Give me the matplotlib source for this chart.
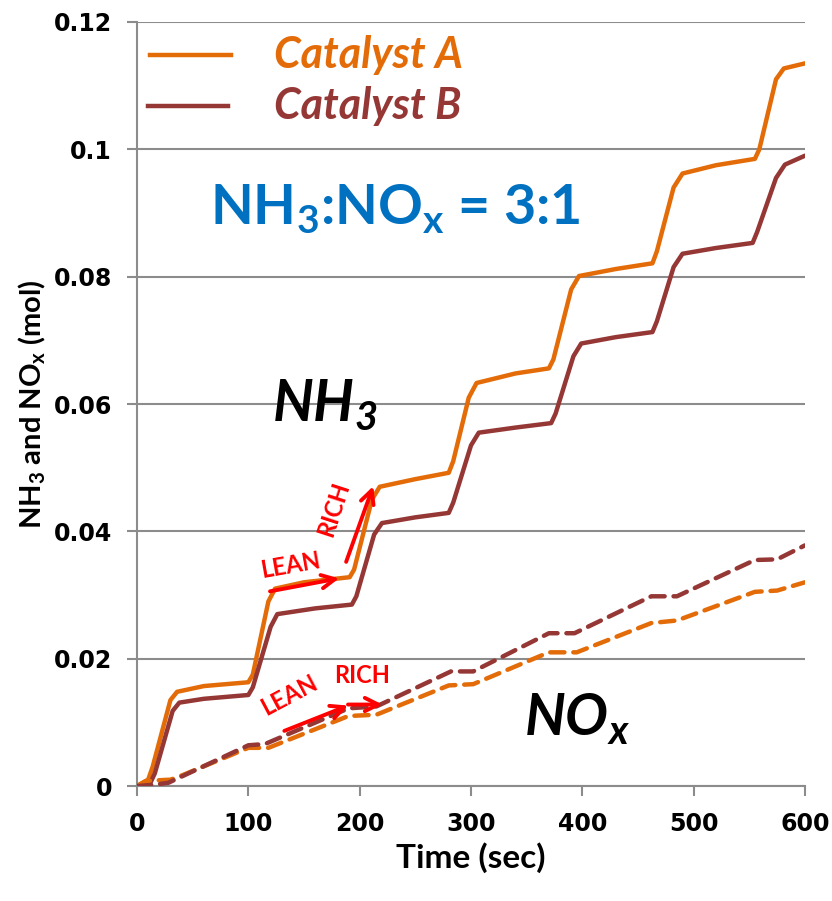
import matplotlib
matplotlib.use("Agg")
import matplotlib.pyplot as plt

# time (sec) / amount (mol)
t_nh3_a = [0, 10, 14, 30, 36, 60, 100, 104, 118, 124, 150, 191, 195, 211, 218, 250, 280, 284, 298, 305, 340, 370, 374, 390, 397, 430, 463, 467, 482, 490, 520, 555, 559, 574, 581, 600]
nh3_a = [0, 0.001, 0.003, 0.0135, 0.0148, 0.0157, 0.0163, 0.0175, 0.029, 0.031, 0.032, 0.0328, 0.034, 0.045, 0.047, 0.0482, 0.0492, 0.051, 0.061, 0.0633, 0.0648, 0.0656, 0.067, 0.078, 0.0801, 0.0812, 0.0821, 0.084, 0.094, 0.0962, 0.0975, 0.0985, 0.1, 0.111, 0.1127, 0.1135]

t_nh3_b = [0, 12, 16, 32, 38, 60, 100, 104, 120, 126, 160, 193, 197, 213, 220, 250, 280, 284, 300, 307, 340, 372, 376, 392, 399, 430, 463, 467, 482, 490, 520, 553, 557, 574, 582, 600]
nh3_b = [0, 0.0005, 0.002, 0.0118, 0.0131, 0.0137, 0.0143, 0.0155, 0.025, 0.027, 0.0279, 0.0285, 0.0298, 0.0395, 0.0413, 0.0422, 0.0429, 0.0445, 0.0535, 0.0555, 0.0563, 0.057, 0.0585, 0.0675, 0.0695, 0.0705, 0.0713, 0.073, 0.0815, 0.0836, 0.0845, 0.0853, 0.087, 0.0955, 0.0976, 0.099]

t_nox_a = [0, 8, 30, 38, 100, 118, 190, 215, 280, 302, 370, 395, 462, 485, 555, 575, 600]
nox_a = [0, 0.0008, 0.001, 0.0015, 0.006, 0.006, 0.011, 0.0112, 0.0158, 0.016, 0.021, 0.021, 0.0256, 0.026, 0.0305, 0.0307, 0.032]

t_nox_b = [0, 15, 28, 100, 115, 190, 215, 282, 302, 370, 393, 462, 485, 555, 575, 600]
nox_b = [0, 0.0002, 0.0005, 0.0064, 0.0066, 0.0122, 0.0125, 0.018, 0.018, 0.024, 0.024, 0.0298, 0.0298, 0.0355, 0.0356, 0.0378]

y_ticks = [0, 0.02, 0.04, 0.06, 0.08, 0.1, 0.12]
y_tick_labels = ["0", "0.02", "0.04", "0.06", "0.08", "0.1", "0.12"]
x_ticks = [0, 100, 200, 300, 400, 500, 600]

ORANGE = "#E36C09"
BROWN = "#953735"
GRID = "#8c8c8c"
TEXT_FONT = "Lato"

fig = plt.figure(figsize=(8.32, 9.01), dpi=100)
ax = fig.add_axes([0.1647, 0.1276, 0.8028, 0.848])

ax.plot(t_nh3_a, nh3_a, color=ORANGE, lw=3.2, solid_capstyle="round", solid_joinstyle="round", zorder=3)
ax.plot(t_nh3_b, nh3_b, color=BROWN, lw=3.2, solid_capstyle="round", solid_joinstyle="round", zorder=3)
ax.plot(t_nox_a, nox_a, color=ORANGE, lw=3.2, ls=(0, (3.2, 2.0)), dash_capstyle="round", zorder=3)
ax.plot(t_nox_b, nox_b, color=BROWN, lw=3.2, ls=(0, (3.2, 2.0)), dash_capstyle="round", zorder=3)

ax.set_xlim(0, 600)
ax.set_ylim(0, 0.12)
ax.set_xticks(x_ticks)
ax.set_yticks(y_ticks)
ax.set_yticklabels(y_tick_labels)
ax.grid(axis="y", color=GRID, lw=1.5, zorder=0)
for side in ["top", "right"]:
    ax.spines[side].set_visible(False)
for side in ["left", "bottom"]:
    ax.spines[side].set_color(GRID)
    ax.spines[side].set_linewidth(1.5)
ax.tick_params(axis="both", colors=GRID, width=1.5, length=7, direction="out")
ax.tick_params(axis="y", pad=11)
ax.tick_params(axis="x", pad=12)
for lbl in ax.get_xticklabels() + ax.get_yticklabels():
    lbl.set_color("black")
    lbl.set_fontweight("bold")
    lbl.set_fontsize(17)
    lbl.set_family("DejaVu Sans")

ax.set_xlabel("Time (sec)", fontsize=24, fontweight="bold", family=TEXT_FONT, labelpad=4)
ax.set_ylabel("NH$_\\mathregular{3}$ and NO$_\\mathregular{x}$ (mol)", fontsize=21,
              fontweight="bold", family=TEXT_FONT, labelpad=4)

# legend drawn by hand: short line + coloured italic name
ax.plot([12, 84], [0.1148, 0.1148], color=ORANGE, lw=3.2, clip_on=False)
ax.plot([10, 82], [0.1068, 0.1068], color=BROWN, lw=3.2, clip_on=False)
ax.text(123, 0.1148, "Catalyst A", color=ORANGE, fontsize=31, fontweight="bold",
        style="italic", family=TEXT_FONT, va="center")
ax.text(123, 0.1068, "Catalyst B", color=BROWN, fontsize=31, fontweight="bold",
        style="italic", family=TEXT_FONT, va="center")

ax.text(232, 0.0907, "NH$_\\mathregular{3}$:NO$_\\mathregular{x}$ = 3:1", color="#0070C0",
        fontsize=40, fontweight="bold", family=TEXT_FONT, ha="center", va="center")
ax.text(169, 0.0598, "NH$_\\mathregular{3}$", color="black", fontsize=41, fontweight="bold",
        style="italic", family=TEXT_FONT, ha="center", va="center")
ax.text(395, 0.0105, "NO$_\\mathregular{x}$", color="black", fontsize=41, fontweight="bold",
        style="italic", family=TEXT_FONT, ha="center", va="center")

# lean/rich phase markers
arrow = dict(arrowstyle="->", color="red", lw=2.8, mutation_scale=24)
ax.annotate("", xy=(184, 0.0327), xytext=(117, 0.0305), arrowprops=arrow)
ax.text(138, 0.0347, "LEAN", color="red", fontsize=17, fontweight="bold", family=TEXT_FONT,
        rotation=10, ha="center", va="center")
ax.annotate("", xy=(213, 0.0475), xytext=(187, 0.0348), arrowprops=arrow)
ax.text(177, 0.0435, "RICH", color="red", fontsize=17, fontweight="bold", family=TEXT_FONT,
        rotation=72, ha="center", va="center")
ax.annotate("", xy=(192, 0.0128), xytext=(130, 0.0085), arrowprops=arrow)
ax.text(137, 0.0143, "LEAN", color="red", fontsize=17, fontweight="bold", family=TEXT_FONT,
        rotation=28, ha="center", va="center")
ax.annotate("", xy=(223, 0.0128), xytext=(187, 0.0128), arrowprops=arrow)
ax.text(202, 0.0173, "RICH", color="red", fontsize=17, fontweight="bold", family=TEXT_FONT,
        ha="center", va="center")

fig.savefig("out.png", dpi=100)
